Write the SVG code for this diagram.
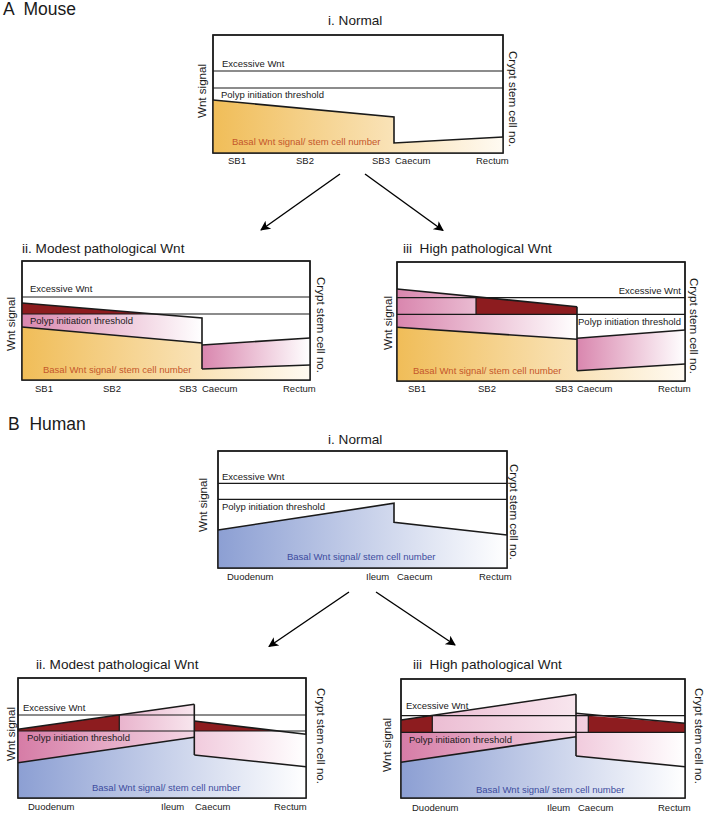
<svg xmlns="http://www.w3.org/2000/svg" width="705" height="813" viewBox="0 0 705 813">
<defs>
<linearGradient id="gold" x1="0" y1="0" x2="1" y2="0"><stop offset="0" stop-color="#f0bd58"/><stop offset="1" stop-color="#fffaf2"/></linearGradient>
<linearGradient id="blue" x1="0" y1="0" x2="1" y2="0"><stop offset="0" stop-color="#8c9fd3"/><stop offset="1" stop-color="#ffffff"/></linearGradient>
<linearGradient id="pink" x1="0" y1="0" x2="1" y2="0"><stop offset="0" stop-color="#d986ae"/><stop offset="1" stop-color="#ffffff"/></linearGradient>
<linearGradient id="pinkL" x1="0" y1="0" x2="1" y2="0"><stop offset="0" stop-color="#d67ca6"/><stop offset="1" stop-color="#f4d6e4"/></linearGradient>
<linearGradient id="lite" x1="0" y1="0" x2="1" y2="0"><stop offset="0" stop-color="#e9b4cd"/><stop offset="1" stop-color="#f8e6ee"/></linearGradient>
<linearGradient id="liteW" x1="0" y1="0" x2="1" y2="0"><stop offset="0" stop-color="#f1cbdd"/><stop offset="1" stop-color="#ffffff"/></linearGradient>
<marker id="ah" viewBox="0 0 10 10" refX="9" refY="5" markerWidth="12" markerHeight="10" orient="auto" markerUnits="userSpaceOnUse">
<path d="M0,0 L10,5 L0,10 L2.5,5 z" fill="#000"/>
</marker>
</defs>
<style>
text{font-family:"Liberation Sans",Arial,sans-serif;fill:#1a1a1a}
.box{fill:#fff;stroke:#1a1a1a;stroke-width:1.4}
.ln{fill:none;stroke:#1a1a1a;stroke-width:1.2}
.bl{fill:none;stroke:#1a1a1a;stroke-width:1.6}
.lb{font-size:9.5px}
.ax{font-size:11.6px}
.ti{font-size:13.6px}
.hd{font-size:17.5px}
.or{fill:#c4572b}
.bu{fill:#3d4c9e}
.dr{fill:#8d1c1f}
.arr{stroke:#000;stroke-width:1.4;fill:none;marker-end:url(#ah)}
</style>

<text class="hd" x="3" y="15" xml:space="preserve">A  Mouse</text>
<text class="hd" x="8" y="430" xml:space="preserve">B  Human</text>

<g id="A-i">
<text class="ti" x="328" y="25">i. Normal</text>
<rect class="box" x="213" y="35" width="290" height="118"/>
<polygon points="213,100 394,117 394,143 503,137 503,153 213,153" fill="url(#gold)"/>
<line class="ln" x1="213" y1="71" x2="503" y2="71"/>
<line class="ln" x1="213" y1="88" x2="503" y2="88"/>
<polyline class="bl" points="213,100 394,117 394,143 503,137"/>
<rect x="213" y="35" width="290" height="118" fill="none" stroke="#1a1a1a" stroke-width="1.4"/>
<text class="lb" x="222" y="67">Excessive Wnt</text>
<text class="lb" x="221" y="97.5">Polyp initiation threshold</text>
<text class="lb or" x="232" y="144.5">Basal Wnt signal/ stem cell number</text>
<text class="lb" x="228" y="164">SB1</text>
<text class="lb" x="296" y="164">SB2</text>
<text class="lb" x="372" y="164">SB3</text>
<text class="lb" x="395" y="164">Caecum</text>
<text class="lb" x="476" y="164">Rectum</text>
<text class="ax" transform="translate(206,91) rotate(-90)" text-anchor="middle">Wnt signal</text>
<text class="ax" transform="translate(509,99) rotate(90)" text-anchor="middle">Crypt stem cell no.</text>
</g>

<g id="A-ii">
<text class="ti" x="22" y="253">ii. Modest pathological Wnt</text>
<rect class="box" x="22" y="261" width="288" height="119"/>
<polygon points="22,327 202,343 202,369 310,365 310,380 22,380" fill="url(#gold)"/>
<polygon points="22,303 202,318 202,343 22,327" fill="url(#pink)"/>
<polygon points="202,345 310,338 310,365 202,369" fill="url(#pink)"/>
<polygon points="22,303 152,314 22,314" class="dr"/>
<line class="ln" x1="22" y1="297" x2="310" y2="297"/>
<line class="ln" x1="22" y1="314" x2="310" y2="314"/>
<polyline class="bl" points="22,303 202,318 202,369"/>
<line class="bl" x1="22" y1="327" x2="202" y2="343"/>
<line class="bl" x1="202" y1="369" x2="310" y2="365"/>
<line class="bl" x1="202" y1="345" x2="310" y2="338"/>
<rect x="22" y="261" width="288" height="119" fill="none" stroke="#1a1a1a" stroke-width="1.4"/>
<text class="lb" x="30" y="292">Excessive Wnt</text>
<text class="lb" x="30" y="324">Polyp initiation threshold</text>
<text class="lb or" x="43" y="373">Basal Wnt signal/ stem cell number</text>
<text class="lb" x="35" y="392">SB1</text>
<text class="lb" x="103" y="392">SB2</text>
<text class="lb" x="179" y="392">SB3</text>
<text class="lb" x="202" y="392">Caecum</text>
<text class="lb" x="283" y="392">Rectum</text>
<text class="ax" transform="translate(14.5,324) rotate(-90)" text-anchor="middle">Wnt signal</text>
<text class="ax" transform="translate(317,325) rotate(90)" text-anchor="middle">Crypt stem cell no.</text>
</g>

<g id="A-iii">
<text class="ti" x="403" y="253" xml:space="preserve">iii  High pathological Wnt</text>
<rect class="box" x="397" y="262" width="288" height="119"/>
<polygon points="397,327.3 577,339.3 577,370.7 685,364 685,381 397,381" fill="url(#gold)"/>
<polygon points="397,289 577,306.7 577,339.3 397,327.3" fill="url(#pink)"/>
<polygon points="577,338.3 685,330 685,364 577,370.7" fill="url(#pink)"/>
<polygon points="476,296.8 577,306.7 577,314.3 476,314.3" class="dr"/>
<line class="ln" x1="397" y1="297.7" x2="685" y2="297.7"/>
<line class="ln" x1="397" y1="314.3" x2="685" y2="314.3"/>
<line class="bl" x1="397" y1="289" x2="577" y2="306.7"/>
<line class="ln" x1="476" y1="296.8" x2="476" y2="314.3"/>
<line class="bl" x1="577" y1="306.7" x2="577" y2="370.7"/>
<line class="bl" x1="397" y1="327.3" x2="577" y2="339.3"/>
<line class="bl" x1="577" y1="370.7" x2="685" y2="364"/>
<line class="bl" x1="577" y1="338.3" x2="685" y2="330"/>
<rect x="397" y="262" width="288" height="119" fill="none" stroke="#1a1a1a" stroke-width="1.4"/>
<text class="lb" x="681" y="294" text-anchor="end">Excessive Wnt</text>
<text class="lb" x="681" y="325" text-anchor="end">Polyp initiation threshold</text>
<text class="lb or" x="413" y="374">Basal Wnt signal/ stem cell number</text>
<text class="lb" x="408" y="392">SB1</text>
<text class="lb" x="478" y="392">SB2</text>
<text class="lb" x="555" y="392">SB3</text>
<text class="lb" x="577" y="392">Caecum</text>
<text class="lb" x="658" y="392">Rectum</text>
<text class="ax" transform="translate(391.5,323) rotate(-90)" text-anchor="middle">Wnt signal</text>
<text class="ax" transform="translate(690,326) rotate(90)" text-anchor="middle">Crypt stem cell no.</text>
</g>

<g id="B-i">
<text class="ti" x="328" y="444">i. Normal</text>
<rect class="box" x="218" y="451" width="289" height="117"/>
<polygon points="218,530 394,503.3 394,522.3 507,535 507,568 218,568" fill="url(#blue)"/>
<line class="ln" x1="218" y1="483.3" x2="507" y2="483.3"/>
<line class="ln" x1="218" y1="499.3" x2="507" y2="499.3"/>
<polyline class="bl" points="218,530 394,503.3 394,522.3 507,535"/>
<rect x="218" y="451" width="289" height="117" fill="none" stroke="#1a1a1a" stroke-width="1.4"/>
<text class="lb" x="222" y="480">Excessive Wnt</text>
<text class="lb" x="222" y="510">Polyp initiation threshold</text>
<text class="lb bu" x="287" y="560">Basal Wnt signal/ stem cell number</text>
<text class="lb" x="227" y="580">Duodenum</text>
<text class="lb" x="366" y="580">Ileum</text>
<text class="lb" x="397" y="580">Caecum</text>
<text class="lb" x="479" y="580">Rectum</text>
<text class="ax" transform="translate(207,505) rotate(-90)" text-anchor="middle">Wnt signal</text>
<text class="ax" transform="translate(510,512) rotate(90)" text-anchor="middle">Crypt stem cell no.</text>
</g>

<g id="B-ii">
<text class="ti" x="36" y="669">ii. Modest pathological Wnt</text>
<rect class="box" x="18" y="678" width="288" height="120"/>
<polygon points="18,762.7 194.3,737.3 194.3,755 306,766.7 306,798 18,798" fill="url(#blue)"/>
<polygon points="18,731 194.3,731 194.3,737.3 18,762.7" fill="url(#pinkL)"/>
<polygon points="119.3,715 194.3,704.3 194.3,731 119.3,731" fill="url(#lite)"/>
<polygon points="194.3,721 306,734.3 306,766.7 194.3,755" fill="url(#liteW)"/>
<polygon points="18,729.3 119.3,715 119.3,731 18,731" class="dr"/>
<polygon points="194.3,721 278,731 194.3,731" class="dr"/>
<line class="ln" x1="18" y1="715" x2="306" y2="715"/>
<line class="ln" x1="18" y1="731" x2="306" y2="731"/>
<line class="bl" x1="18" y1="729.3" x2="194.3" y2="704.3"/>
<line class="ln" x1="119.3" y1="715" x2="119.3" y2="731"/>
<line class="bl" x1="194.3" y1="704.3" x2="194.3" y2="755"/>
<line class="bl" x1="194.3" y1="721" x2="306" y2="734.3"/>
<line class="bl" x1="18" y1="762.7" x2="194.3" y2="737.3"/>
<line class="bl" x1="194.3" y1="755" x2="306" y2="766.7"/>
<rect x="18" y="678" width="288" height="120" fill="none" stroke="#1a1a1a" stroke-width="1.4"/>
<text class="lb" x="23" y="711">Excessive Wnt</text>
<text class="lb" x="27" y="741">Polyp initiation threshold</text>
<text class="lb bu" x="92" y="791">Basal Wnt signal/ stem cell number</text>
<text class="lb" x="28" y="810">Duodenum</text>
<text class="lb" x="161" y="810">Ileum</text>
<text class="lb" x="195" y="810">Caecum</text>
<text class="lb" x="274" y="810">Rectum</text>
<text class="ax" transform="translate(15,734) rotate(-90)" text-anchor="middle">Wnt signal</text>
<text class="ax" transform="translate(317,736) rotate(90)" text-anchor="middle">Crypt stem cell no.</text>
</g>

<g id="B-iii">
<text class="ti" x="413" y="669" xml:space="preserve">iii  High pathological Wnt</text>
<rect class="box" x="401" y="679" width="284" height="119"/>
<polygon points="401,762.3 576,736.7 576,756 685,766.7 685,798 401,798" fill="url(#blue)"/>
<polygon points="401,732.3 576,732.3 576,736.7 401,762.3" fill="url(#pinkL)"/>
<polygon points="401,720 576,694.3 576,732.3 401,732.3" fill="url(#lite)"/>
<polygon points="576,713.3 685,723.3 685,766.7 576,756" fill="url(#liteW)"/>
<polygon points="401,720 432.3,715.7 432.3,732.3 401,732.3" class="dr"/>
<polygon points="588.3,715.7 685,723.3 685,732.3 588.3,732.3" class="dr"/>
<line class="ln" x1="401" y1="715.7" x2="685" y2="715.7"/>
<line class="ln" x1="401" y1="732.3" x2="685" y2="732.3"/>
<line class="bl" x1="401" y1="720" x2="576" y2="694.3"/>
<line class="ln" x1="432.3" y1="715.7" x2="432.3" y2="732.3"/>
<line class="bl" x1="576" y1="694.3" x2="576" y2="756"/>
<line class="ln" x1="588.3" y1="715.7" x2="588.3" y2="732.3"/>
<line class="bl" x1="576" y1="713.3" x2="685" y2="723.3"/>
<line class="bl" x1="401" y1="762.3" x2="576" y2="736.7"/>
<line class="bl" x1="576" y1="756" x2="685" y2="766.7"/>
<rect x="401" y="679" width="284" height="119" fill="none" stroke="#1a1a1a" stroke-width="1.4"/>
<text class="lb" x="406" y="709">Excessive Wnt</text>
<text class="lb" x="409" y="742.5">Polyp initiation threshold</text>
<text class="lb bu" x="476" y="793">Basal Wnt signal/ stem cell number</text>
<text class="lb" x="412" y="811">Duodenum</text>
<text class="lb" x="547" y="811">Ileum</text>
<text class="lb" x="578" y="811">Caecum</text>
<text class="lb" x="658" y="811">Rectum</text>
<text class="ax" transform="translate(391,745) rotate(-90)" text-anchor="middle">Wnt signal</text>
<text class="ax" transform="translate(695,736) rotate(90)" text-anchor="middle">Crypt stem cell no.</text>
</g>

<g id="connectors">
<line class="arr" x1="340" y1="174" x2="261" y2="230"/>
<line class="arr" x1="365" y1="174" x2="443" y2="230.5"/>
<line class="arr" x1="349" y1="592" x2="269" y2="646.5"/>
<line class="arr" x1="376" y1="592" x2="455" y2="645"/>
</g>
</svg>
